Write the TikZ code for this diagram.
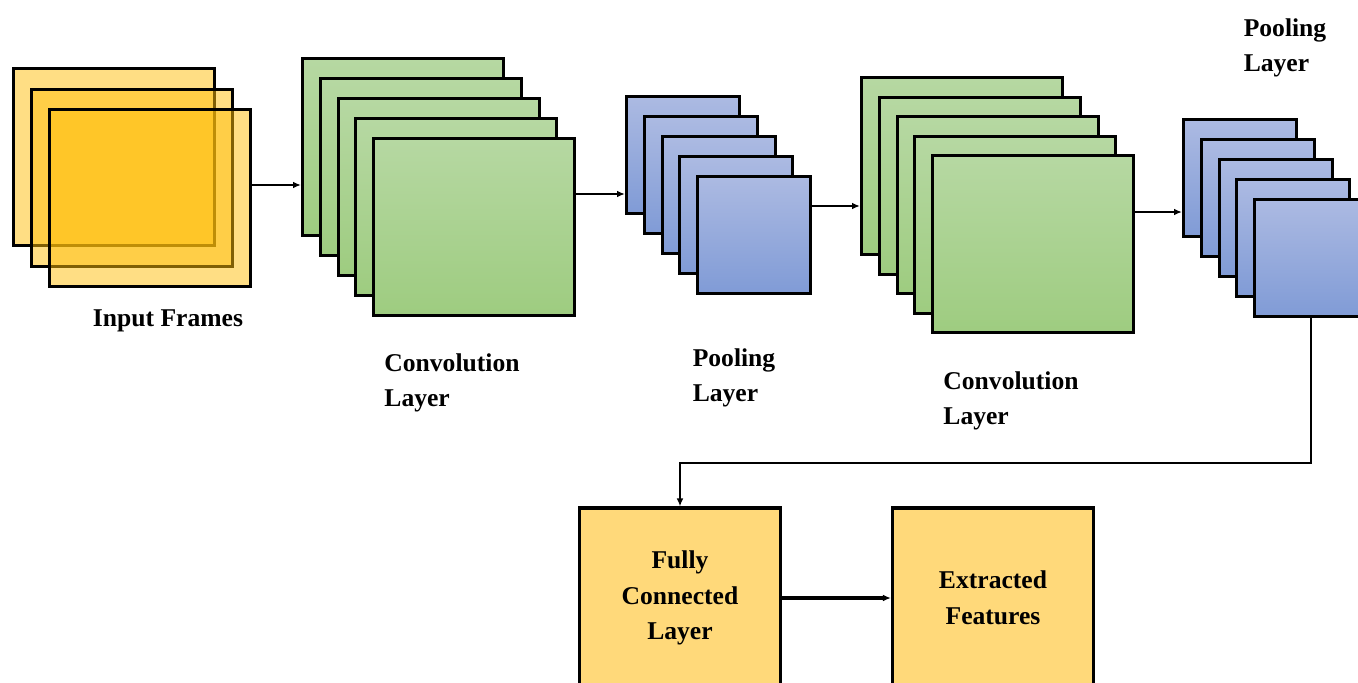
\documentclass[tikz,border=0pt]{standalone}
\usepackage{fontspec}
\setmainfont{Liberation Serif}
\usetikzlibrary{arrows.meta,shadings}

\definecolor{inyellow}{RGB}{255,190,10}
\definecolor{greentop}{RGB}{182,216,162}
\definecolor{greenbot}{RGB}{158,204,128}
\definecolor{bluetop}{RGB}{172,186,226}
\definecolor{bluebot}{RGB}{128,155,214}
\definecolor{boxyellow}{RGB}{255,217,122}

\tikzset{
  inframe/.style={draw=black, line width=2.3pt, fill=inyellow, fill opacity=0.5, draw opacity=1,
    inner sep=0pt, minimum width=150.75pt, minimum height=132.75pt, anchor=north west},
  convmap/.style={draw=black, line width=2.3pt, top color=greentop, bottom color=greenbot,
    inner sep=0pt, minimum width=150.75pt, minimum height=132.75pt, anchor=north west},
  poolmap/.style={draw=black, line width=2.3pt, top color=bluetop, bottom color=bluebot,
    inner sep=0pt, minimum width=84.75pt, minimum height=87.75pt, anchor=north west},
  fcbox/.style={draw=black, line width=2.3pt, fill=boxyellow, inner sep=0pt,
    minimum width=150.75pt, minimum height=135pt, align=center,
    font=\fontsize{19.2}{26.8}\selectfont\bfseries},
  lbl/.style={inner sep=0pt, align=left, font=\fontsize{19.2}{26.8}\selectfont\bfseries},
  arr/.style={line width=1.5pt, -{Latex[length=6pt,width=5pt]}}
}

\begin{document}
\begin{tikzpicture}[x=0.75pt,y=0.75pt,yscale=-1,xscale=1]
    \useasboundingbox (0,0) rectangle (1358,682);
    \clip (0,0) rectangle (1358,682);

    %Input frames
    \node[inframe] (in1) at (12,67) {};
    \node[inframe] (in2) at (30,88) {};
    \node[inframe] (in3) at (48,108) {};

    %Convolution maps 1
    \foreach \i in {1,...,5}
      \node[convmap] (conv1-\i) at ({301+17.75*(\i-1)},{57+20*(\i-1)}) {};
    %Pooling maps 1
    \foreach \i in {1,...,5}
      \node[poolmap] (pool1-\i) at ({625+17.75*(\i-1)},{95+20*(\i-1)}) {};
    %Convolution maps 2
    \foreach \i in {1,...,5}
      \node[convmap] (conv2-\i) at ({860+17.8*(\i-1)},{76+19.6*(\i-1)}) {};
    %Pooling maps 2
    \foreach \i in {1,...,5}
      \node[poolmap] (pool2-\i) at ({1182+17.75*(\i-1)},{118+20*(\i-1)}) {};

    %Bottom boxes
    \node[fcbox] (fc) at (680,598) {Fully\\Connected\\Layer};
    \node[fcbox] (ef) at (993,598) {Extracted\\Features};

    %Straight Lines
    \draw[arr] (in3.east |- 0,185) -- (conv1-1.west |- 0,185);
    \draw[arr] (conv1-5.east |- 0,194) -- (pool1-1.west |- 0,194);
    \draw[arr] (pool1-5.east |- 0,206) -- (conv2-1.west |- 0,206);
    \draw[arr] (conv2-5.east |- 0,212) -- (pool2-1.west |- 0,212);
    \coordinate (bend) at (680,463);
    \draw[arr] (pool2-5.south) |- (bend) -- (fc.north);
    \draw[arr, line width=2.4pt] (fc.east) -- (ef.west);

    % Text Node
    \node[lbl] (inlbl) at (168,321) {Input Frames};
    % Text Node
    \node[lbl] (convlbl1) at (452,383) {Convolution\\Layer};
    % Text Node
    \node[lbl] (poollbl1) at (734,378) {Pooling\\Layer};
    % Text Node
    \node[lbl] (convlbl2) at (1011,401) {Convolution\\Layer};
    % Text Node
    \node[lbl] (poollbl2) at (1285,48) {Pooling\\Layer};
\end{tikzpicture}
\end{document}
